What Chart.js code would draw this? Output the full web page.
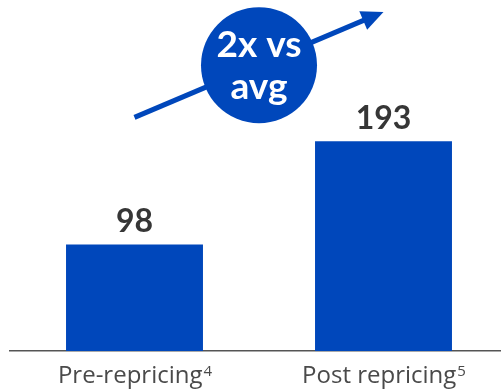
<!DOCTYPE html>
<html>
<head>
<meta charset="utf-8">
<script src="https://cdn.jsdelivr.net/npm/chart.js@4"></script>
<style>
  html, body { margin: 0; padding: 0; background: #fff; overflow: hidden; }
  #wrap { width: 510px; height: 392px; position: relative; }
</style>
</head>
<body>
<div id="wrap"><canvas id="grafico" width="510" height="392"></canvas></div>
<script>
// dados do grafico
const categorias = ['Pre-repricing', 'Post repricing'];
const notas = ['4', '5'];
const valores = [98, 193];

// seta e circulo em coordenadas do grafico
const setaInicio = [0, 215];
const setaFim = [1, 312];
const circuloCentro = [0.5, 263];
const circuloTexto = ['2x vs', 'avg'];

const azul = '#0047BB';

const extras = {
  id: 'extras',
  afterDatasetsDraw(chart) {
    const ctx = chart.ctx;
    const x = chart.scales.x, y = chart.scales.y;
    const meta = chart.getDatasetMeta(0);

    // rotulos dos valores
    ctx.save();
    ctx.fillStyle = '#363636';
    ctx.font = 'bold 32px Lato';
    ctx.textAlign = 'center';
    ctx.textBaseline = 'middle';
    meta.data.forEach((bar, i) => {
      ctx.fillText(valores[i], bar.x, bar.y - 23);
    });

    // rotulos das categorias com sobrescrito
    categorias.forEach((c, i) => {
      const cx = x.getPixelForValue(i);
      ctx.font = '24px "Open Sans"';
      const w1 = ctx.measureText(c).width;
      ctx.font = '15px "Open Sans"';
      const w2 = ctx.measureText(notas[i]).width;
      const left = cx - (w1 + w2) / 2;
      ctx.fillStyle = '#4a4a4a';
      ctx.textAlign = 'left';
      ctx.textBaseline = 'alphabetic';
      ctx.font = '24px "Open Sans"';
      ctx.fillText(c, left, 383);
      ctx.font = '15px "Open Sans"';
      ctx.fillText(notas[i], left + w1 + 1, 376);
    });

    // seta
    const x1 = x.getPixelForValue(setaInicio[0]), y1 = y.getPixelForValue(setaInicio[1]);
    const x2 = x.getPixelForValue(setaFim[0]), y2 = y.getPixelForValue(setaFim[1]);
    const ang = Math.atan2(y2 - y1, x2 - x1);
    ctx.strokeStyle = azul;
    ctx.fillStyle = azul;
    ctx.lineWidth = 5;
    ctx.beginPath();
    ctx.moveTo(x1, y1);
    ctx.lineTo(x2 - 14 * Math.cos(ang), y2 - 14 * Math.sin(ang));
    ctx.stroke();
    ctx.beginPath();
    ctx.moveTo(x2, y2);
    ctx.lineTo(x2 - 22 * Math.cos(ang) + 10 * Math.sin(ang), y2 - 22 * Math.sin(ang) - 10 * Math.cos(ang));
    ctx.lineTo(x2 - 22 * Math.cos(ang) - 10 * Math.sin(ang), y2 - 22 * Math.sin(ang) + 10 * Math.cos(ang));
    ctx.closePath();
    ctx.fill();

    // circulo
    const ccx = x.getPixelForValue(circuloCentro[0]), ccy = y.getPixelForValue(circuloCentro[1]);
    ctx.beginPath();
    ctx.arc(ccx, ccy, 58, 0, Math.PI * 2);
    ctx.fill();
    ctx.fillStyle = '#fff';
    ctx.font = 'bold 37px Lato';
    ctx.textAlign = 'center';
    ctx.textBaseline = 'middle';
    ctx.fillText(circuloTexto[0], ccx, ccy - 20);
    ctx.fillText(circuloTexto[1], ccx, ccy + 22);
    ctx.restore();
  }
};

new Chart(document.getElementById('grafico'), {
  type: 'bar',
  data: {
    labels: categorias,
    datasets: [{
      data: valores,
      backgroundColor: azul,
      barPercentage: 0.55,
      categoryPercentage: 1
    }]
  },
  options: {
    responsive: false,
    animation: false,
    devicePixelRatio: 1,
    layout: { padding: { left: 10, right: 2, top: 0, bottom: 33 } },
    plugins: { legend: { display: false }, tooltip: { enabled: false } },
    scales: {
      x: {
        grid: { display: false },
        ticks: { display: false },
        border: { display: true, color: '#555', width: 1.5 }
      },
      y: {
        display: false,
        min: 0,
        max: 323
      }
    }
  },
  plugins: [extras]
});
</script>
</body>
</html>
